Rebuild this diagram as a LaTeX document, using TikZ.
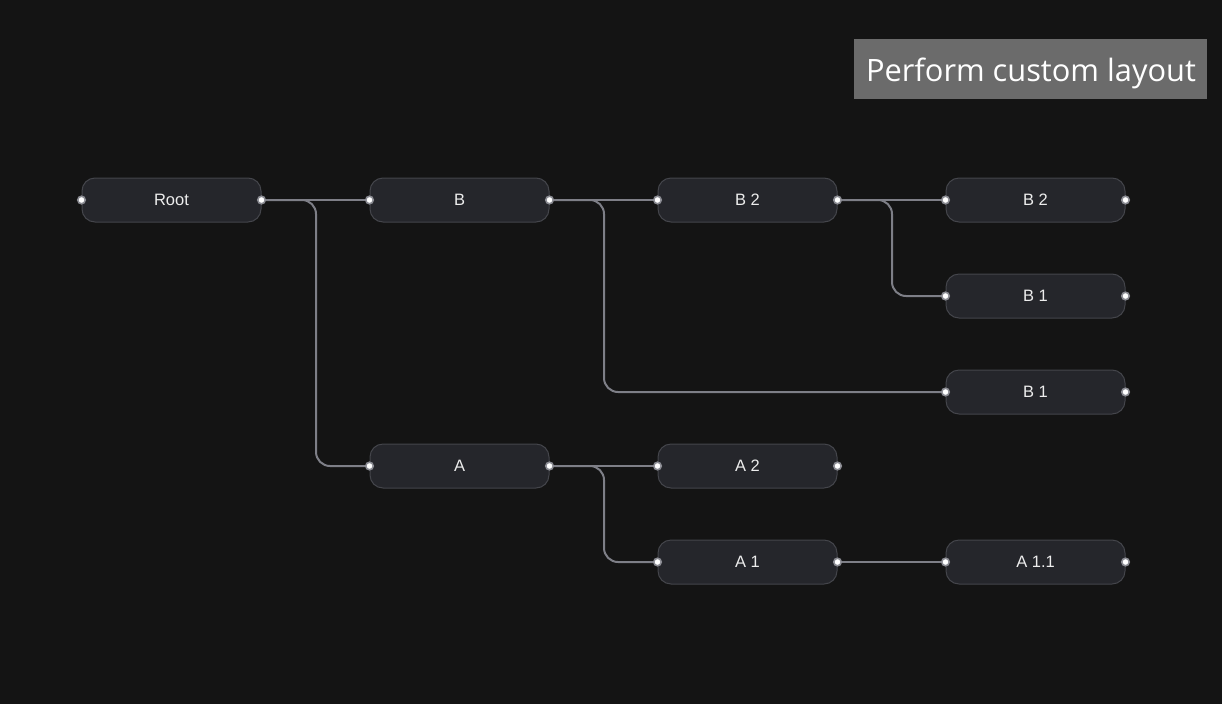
\documentclass[tikz,border=0pt]{standalone}
\usepackage{fontspec}
\usetikzlibrary{calc}
\setmainfont{Liberation Sans}
\newfontfamily\btnfont{Open Sans}
\definecolor{bg}{HTML}{141414}
\definecolor{nodefill}{HTML}{25262B}
\definecolor{nodeedge}{HTML}{44454B}
\definecolor{wire}{HTML}{7E7F87}
\definecolor{porte}{HTML}{8A8B92}
\definecolor{btn}{HTML}{6B6B6B}
\definecolor{txt}{HTML}{EDEDED}
\begin{document}
\begin{tikzpicture}[x=1pt,y=-1pt,
  card/.style={draw=nodeedge, line width=1pt, fill=nodefill, rounded corners=13pt,
    minimum width=179pt, minimum height=44pt, inner sep=0pt, text=txt,
    font=\fontsize{16.5}{18}\selectfont},
  port/.style={circle, fill=white, draw=porte, line width=1.6pt, minimum size=7.5pt, inner sep=0pt},
  wireln/.style={draw=wire, line width=2pt, rounded corners=14pt}]
\fill[bg] (0,0) rectangle (1222,704);
\useasboundingbox (0,0) rectangle (1222,704);
% button
\node[fill=btn, minimum width=353pt, minimum height=60pt, inner sep=0pt] (btn) at (1030.5,69) {};
\node[text=white, inner sep=0pt, anchor=base, font=\btnfont\fontsize{30.8}{34}\selectfont]
  (btntext) at (1031,81) {Perform custom layout};
% nodes
\node[card] (root) at (171.5,200) {Root};
\node[card] (b) at (459.5,200) {B};
\node[card] (b2) at (747.5,200) {B 2};
\node[card] (b2b) at (1035.5,200) {B 2};
\node[card] (b1) at (1035.5,296) {B 1};
\node[card] (b1b) at (1035.5,392) {B 1};
\node[card] (a) at (459.5,466) {A};
\node[card] (a2) at (747.5,466) {A 2};
\node[card] (a1) at (747.5,562) {A 1};
\node[card] (a11) at (1035.5,562) {A 1.1};
% bend columns
\coordinate (kr) at ([xshift=54.5pt]root.east);
\coordinate (kb) at ([xshift=54.5pt]b.east);
\coordinate (kb2) at ([xshift=54.5pt]b2.east);
\coordinate (ka) at ([xshift=54.5pt]a.east);
% wires
\draw[wireln] (root.east) -- (b.west);
\draw[wireln] (root.east) -| (kr |- a.west) -- (a.west);
\draw[wireln] (b.east) -- (b2.west);
\draw[wireln] (b.east) -| (kb |- b1b.west) -- (b1b.west);
\draw[wireln] (b2.east) -- (b2b.west);
\draw[wireln] (b2.east) -| (kb2 |- b1.west) -- (b1.west);
\draw[wireln] (a.east) -- (a2.west);
\draw[wireln] (a.east) -| (ka |- a1.west) -- (a1.west);
\draw[wireln] (a1.east) -- (a11.west);
% ports
\foreach \n in {root,b,b2,b2b,b1,b1b,a,a2,a1,a11}{
  \node[port] (\n-in) at (\n.west) {};
  \node[port] (\n-out) at (\n.east) {};
}
\end{tikzpicture}
\end{document}
